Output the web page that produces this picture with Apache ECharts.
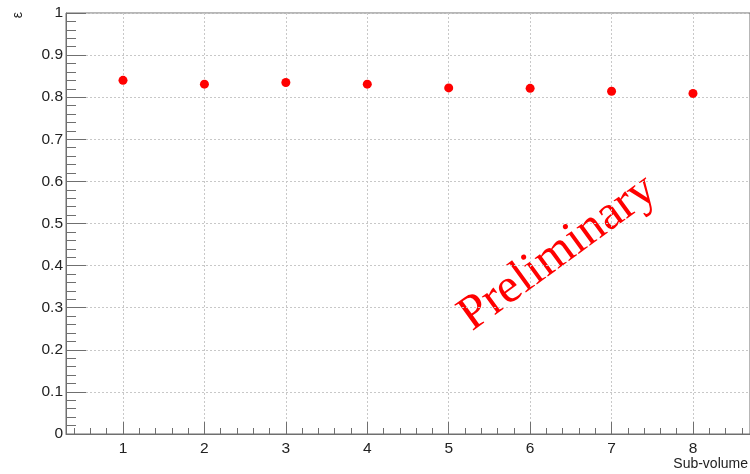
<!DOCTYPE html>
<html>
<head>
<meta charset="utf-8">
<script src="https://cdn.jsdelivr.net/npm/echarts@6/dist/echarts.min.js"></script>
<style>
  html, body { margin: 0; padding: 0; background: #fff; }
  #chart { width: 750px; height: 474px; }
</style>
</head>
<body>
<div id="chart"></div>
<script>
// Efficiency per sub-volume
const subVolumes = [1, 2, 3, 4, 5, 6, 7, 8];
const efficiency = [0.840, 0.831, 0.835, 0.831, 0.822, 0.821, 0.814, 0.809];

// Axis ranges and tick positions
const xRange = [0.3, 8.7];
const xMajorTicks = [1, 2, 3, 4, 5, 6, 7, 8];
const xMinorTicks = [];
for (let k = 2; k <= 43; k++) xMinorTicks.push(+(k * 0.2).toFixed(1));
const yRange = [0, 1];
const yStep = 0.1;

const axisColor = '#6f6f6f';
const gridLine = { show: true, lineStyle: { color: '#c8c8c8', type: [2, 2], width: 1 } };

const chart = echarts.init(document.getElementById('chart'), null, { renderer: 'canvas' });

chart.setOption({
  animation: false,
  grid: {
    left: 66, top: 13, right: 0, bottom: 40,
    show: true, borderColor: axisColor, borderWidth: 1, backgroundColor: 'transparent'
  },
  xAxis: [
    {
      type: 'value', position: 'bottom', min: xRange[0], max: xRange[1],
      axisLine: { show: true, lineStyle: { color: axisColor } },
      axisTick: { show: true, inside: true, length: 12, customValues: xMajorTicks,
                  lineStyle: { color: axisColor } },
      axisLabel: { customValues: xMajorTicks, fontFamily: 'Liberation Sans', fontSize: 15.5,
                   color: '#222', margin: 7 },
      splitLine: gridLine
    },
    {
      type: 'value', position: 'bottom', offset: 0, min: xRange[0], max: xRange[1],
      axisLine: { show: false },
      axisTick: { show: true, inside: true, length: 6, customValues: xMinorTicks,
                  lineStyle: { color: axisColor } },
      axisLabel: { show: false },
      splitLine: { show: false }
    }
  ],
  yAxis: {
    type: 'value', min: yRange[0], max: yRange[1], interval: yStep,
    axisLine: { show: true, lineStyle: { color: axisColor } },
    axisTick: { show: true, inside: true, length: 20, lineStyle: { color: axisColor } },
    minorTick: { show: true, splitNumber: 5, length: 10, lineStyle: { color: axisColor } },
    axisLabel: { fontFamily: 'Liberation Sans', fontSize: 15.5, color: '#222', margin: 3,
                 formatter: v => String(+v.toFixed(1)) },
    splitLine: gridLine
  },
  series: [{
    type: 'scatter',
    xAxisIndex: 0,
    data: subVolumes.map((x, i) => [x, efficiency[i]]),
    symbol: 'circle', symbolSize: 9,
    itemStyle: { color: '#ff0000', opacity: 1 }
  }],
  graphic: [
    {
      type: 'text', left: 11, top: 12, rotation: Math.PI / 2,
      style: { text: 'ε', font: '14px "Liberation Sans"', fill: '#222' }
    },
    {
      type: 'text', right: 2, top: 457,
      style: { text: 'Sub-volume', font: '14px "Liberation Sans"', fill: '#222' }
    },
    {
      type: 'text', x: 558, y: 253, rotation: 0.63,
      style: { text: 'Preliminary', font: '49px "Liberation Serif"', fill: '#ff0000',
               align: 'center', verticalAlign: 'middle' }
    }
  ]
});
</script>
</body>
</html>
